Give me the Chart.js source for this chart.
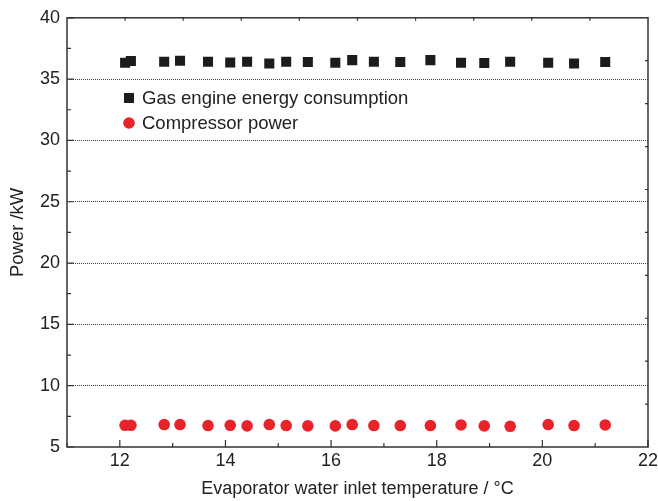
<!DOCTYPE html>
<html>
<head>
<meta charset="utf-8">
<script src="https://cdn.jsdelivr.net/npm/chart.js@4.4.1/dist/chart.umd.min.js"></script>
<style>
  html, body { margin: 0; padding: 0; background: #fff; }
  #wrap { width: 658px; height: 501px; }
</style>
</head>
<body>
<div id="wrap"><canvas id="c"></canvas></div>
<script>
// evaporator water inlet temperature, degC
const inletTemp = [12.10, 12.21, 12.84, 13.14, 13.67, 14.09, 14.41, 14.83, 15.15, 15.56,
                   16.08, 16.40, 16.81, 17.31, 17.88, 18.46, 18.90, 19.39, 20.11, 20.60, 21.19];
// power, kW
const gasEnergy = [36.34, 36.47, 36.42, 36.50, 36.42, 36.36, 36.42, 36.28, 36.42, 36.39,
                   36.34, 36.55, 36.42, 36.39, 36.55, 36.34, 36.31, 36.42, 36.34, 36.28, 36.39];
const compressorPower = [6.77, 6.77, 6.83, 6.83, 6.75, 6.77, 6.72, 6.83, 6.75, 6.72,
                         6.72, 6.83, 6.75, 6.75, 6.75, 6.80, 6.72, 6.69, 6.83, 6.75, 6.80];
const seriesNames = ['Gas engine energy consumption', 'Compressor power'];
const xTicks = [12, 14, 16, 18, 20, 22];
const yTicks = [5, 10, 15, 20, 25, 30, 35, 40];

const FONT = "'Liberation Sans', Arial, Helvetica, sans-serif";
const INK = '#222';

const toPoints = ys => inletTemp.map((x, i) => ({ x, y: ys[i] }));

// box frame with inward ticks on all four sides
const framePlugin = {
  id: 'frame',
  afterDraw(chart) {
    const { ctx, chartArea: a, scales: { x, y } } = chart;
    ctx.save();
    ctx.strokeStyle = '#333';
    ctx.lineWidth = 1.5;
    ctx.strokeRect(a.left, a.top, a.right - a.left, a.bottom - a.top);
    ctx.lineWidth = 1.2;
    ctx.beginPath();
    for (let v = x.min; v <= x.max; v += 1) {
      const px = x.getPixelForValue(v);
      const len = xTicks.includes(v) ? 7 : 4;
      ctx.moveTo(px, a.bottom); ctx.lineTo(px, a.bottom - len);
    }
    for (let v = y.min; v <= y.max; v += 2.5) {
      const py = y.getPixelForValue(v);
      const len = yTicks.includes(v) ? 7 : 4;
      ctx.moveTo(a.left, py); ctx.lineTo(a.left + len, py);
    }
    // secondary top/right axes: ten plain divisions
    for (let i = 1; i < 10; i++) {
      const px = a.left + (a.right - a.left) * i / 10;
      ctx.moveTo(px, a.top); ctx.lineTo(px, a.top + 3);
      const py = a.top + (a.bottom - a.top) * i / 10;
      ctx.moveTo(a.right, py); ctx.lineTo(a.right - 3, py);
    }
    ctx.stroke();
    ctx.restore();
  }
};

// legend placed inside the plot area
const insideLegend = {
  id: 'insideLegend',
  afterDatasetsDraw(chart) {
    const { ctx } = chart;
    const x0 = 129, y0 = 98, gap = 25;
    ctx.save();
    ctx.font = '18.5px ' + FONT;
    ctx.textBaseline = 'middle';
    chart.data.datasets.forEach((ds, i) => {
      const cy = y0 + i * gap;
      ctx.fillStyle = ds.backgroundColor;
      if (ds.pointStyle === 'rect') {
        ctx.fillRect(x0 - 5, cy - 5, 10, 10);
      } else {
        ctx.beginPath(); ctx.arc(x0, cy, 5.8, 0, Math.PI * 2); ctx.fill();
      }
      ctx.fillStyle = INK;
      ctx.fillText(ds.label, x0 + 13, cy + 1);
    });
    ctx.restore();
  }
};

new Chart(document.getElementById('c'), {
  type: 'scatter',
  data: {
    datasets: [
      {
        label: seriesNames[0],
        data: toPoints(gasEnergy),
        pointStyle: 'rect',
        pointRadius: 7.1,
        pointBorderWidth: 0,
        backgroundColor: '#1c1c1c',
        borderColor: '#1c1c1c'
      },
      {
        label: seriesNames[1],
        data: toPoints(compressorPower),
        pointStyle: 'circle',
        pointRadius: 5.8,
        pointBorderWidth: 0,
        backgroundColor: '#e8232a',
        borderColor: '#e8232a'
      }
    ]
  },
  plugins: [framePlugin, insideLegend],
  options: {
    responsive: true,
    maintainAspectRatio: false,
    animation: false,
    layout: { padding: { top: 14, right: 10, left: 0, bottom: 0 } },
    plugins: { legend: { display: false }, tooltip: { enabled: false } },
    scales: {
      x: {
        type: 'linear',
        min: 11, max: 22,
        afterBuildTicks: s => { s.ticks = xTicks.map(v => ({ value: v })); },
        afterFit: s => { s.height = 54; s.paddingLeft = 0; s.paddingRight = 0; },
        grid: { display: false, drawTicks: false },
        border: { display: false },
        ticks: { color: INK, font: { family: FONT, size: 18 }, padding: 3, maxRotation: 0 },
        title: {
          display: true,
          text: 'Evaporator water inlet temperature / °C',
          color: INK,
          font: { family: FONT, size: 18 },
          padding: { top: 0, bottom: 1 }
        }
      },
      y: {
        type: 'linear',
        min: 5, max: 40,
        afterBuildTicks: s => { s.ticks = yTicks.map(v => ({ value: v })); },
        afterFit: s => { s.width = 67; },
        grid: {
          drawTicks: false,
          lineWidth: 1,
          color: c => (c.tick && (c.tick.value === 5 || c.tick.value === 40)) ? 'rgba(0,0,0,0)' : '#3a3a3a'
        },
        border: { display: false, dash: [1, 1] },
        ticks: { color: INK, font: { family: FONT, size: 18 }, padding: 7 },
        title: {
          display: true,
          text: 'Power /kW',
          color: INK,
          font: { family: FONT, size: 18.5 },
          padding: { top: 7, bottom: 0 }
        }
      }
    }
  }
});
</script>
</body>
</html>
